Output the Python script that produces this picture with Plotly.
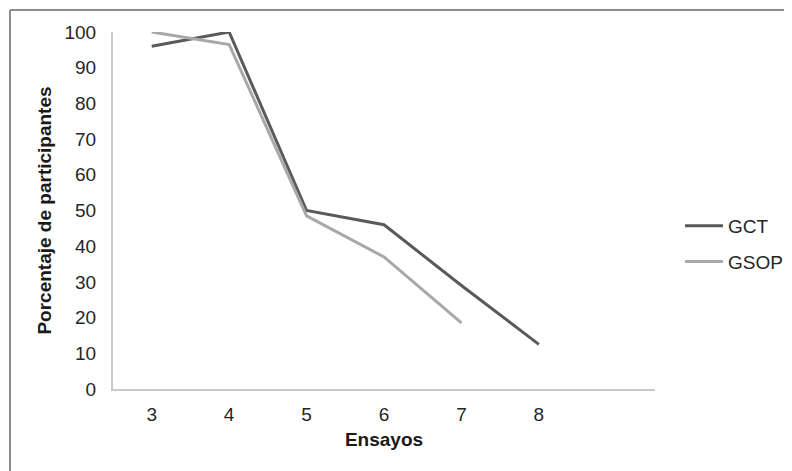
import plotly.graph_objects as go

ensayos_gct = [3, 4, 5, 6, 7, 8]
gct = [96, 100, 50, 46, 29, 12.5]
ensayos_gsop = [3, 4, 5, 6, 7]
gsop = [100, 96.5, 48.5, 37, 18.5]
x_ticks = [3, 4, 5, 6, 7, 8]
y_ticks = [0, 10, 20, 30, 40, 50, 60, 70, 80, 90, 100]

OFF = 8  # browser body margin
W, H = 792 - OFF, 471 - OFF
L, T = 113 - OFF, 32 - OFF
R, B = W - (655 - OFF), H - (389 - OFF)
pw, ph = W - L - R, H - T - B

def px_x(wx):
    return (wx - OFF - L) / pw

def px_y(wy):
    return (H - B - (wy - OFF)) / ph

fig = go.Figure()
fig.add_trace(go.Scatter(x=ensayos_gct, y=gct, mode="lines", name="GCT",
                         line=dict(color="#5a5a5a", width=3), legendgroup="a"))
fig.add_trace(go.Scatter(x=ensayos_gsop, y=gsop, mode="lines", name="GSOP",
                         line=dict(color="#a8a8a8", width=3), legendgroup="b"))

font = "Arial, Liberation Sans, sans-serif"
fig.update_layout(
    width=W, height=H,
    margin=dict(l=L, r=R, t=T, b=B, autoexpand=False),
    paper_bgcolor="white", plot_bgcolor="white",
    font=dict(family=font, size=19, color="#262626"),
    showlegend=True,
    legend=dict(x=px_x(680), y=px_y(207), xanchor="left", yanchor="top",
                font=dict(size=19, color="#262626"), tracegroupgap=8,
                bgcolor="rgba(0,0,0,0)", itemwidth=38),
    xaxis=dict(range=[2.5, 9.5], tickvals=x_ticks, ticktext=[str(v) for v in x_ticks],
               showgrid=False, zeroline=False, showline=True, linecolor="#c8c8c8", linewidth=2,
               ticks="", ticklabelstandoff=7,
               title=dict(text="<b>Ensayos</b>", font=dict(size=19, color="#1a1a1a"), standoff=9)),
    yaxis=dict(range=[0, 100], tickvals=y_ticks, showgrid=False, zeroline=False,
               showline=True, linecolor="#c8c8c8", linewidth=2, ticks="", ticklabelstandoff=11,
               title=dict(text="<b>Porcentaje de participantes</b>", font=dict(size=19, color="#1a1a1a"),
                          standoff=8)),
)

# outer frame (left and top edges only, as in the reference)
fig.add_shape(type="line", xref="paper", yref="paper", x0=px_x(10), x1=px_x(10),
              y0=px_y(10), y1=px_y(480), line=dict(color="#8c8c8c", width=2))
fig.add_shape(type="line", xref="paper", yref="paper", x0=px_x(10), x1=px_x(800),
              y0=px_y(10), y1=px_y(10), line=dict(color="#8c8c8c", width=2))

fig.write_html("out.html")
